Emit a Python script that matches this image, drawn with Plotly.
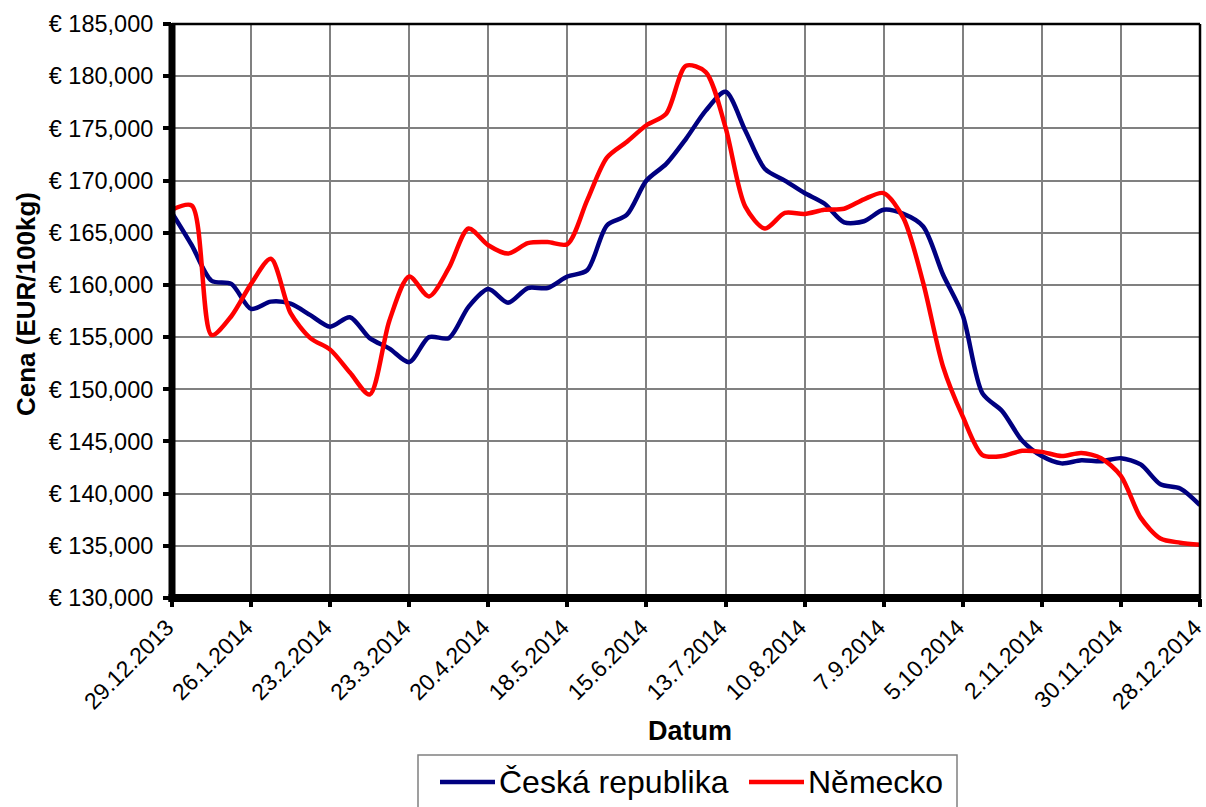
import pandas as pd
import plotly.graph_objects as go

# Weekly dates (53 weeks)
start_date = "2013-12-29"
n_weeks = 53
dates = pd.date_range(start_date, periods=n_weeks, freq="7D")

cz_values = [166900, 163800, 160400, 160100, 157700, 158400, 158200, 157100, 156000, 156900,
             154900, 153900, 152600, 155000, 154900, 157900, 159600, 158300, 159700, 159700,
             160800, 161400, 165700, 166700, 170000, 171600, 174000, 176700, 178500, 174800,
             171100, 170000, 168800, 167800, 166000, 166100, 167200, 166800, 165600, 161000,
             157100, 149600, 147900, 145100, 143600, 142900, 143200, 143100, 143400, 142800,
             140900, 140500, 138900]

de_values = [167200, 167600, 155200, 157000, 160100, 162500, 157300, 154900, 153800, 151600,
             149500, 156600, 160800, 158900, 161600, 165400, 163800, 163000, 164000, 164100,
             163900, 168100, 172200, 173700, 175300, 176400, 181000, 180400, 175100, 167500,
             165400, 166900, 166800, 167200, 167300, 168200, 168800, 166400, 160200, 152200,
             147400, 143700, 143600, 144100, 144000, 143600, 143900, 143400, 141700, 137700,
             135700, 135300, 135100]

x_tick_labels = ["29.12.2013", "26.1.2014", "23.2.2014", "23.3.2014", "20.4.2014", "18.5.2014",
                 "15.6.2014", "13.7.2014", "10.8.2014", "7.9.2014", "5.10.2014", "2.11.2014",
                 "30.11.2014", "28.12.2014"]
y_tick_values = list(range(130000, 185001, 5000))
y_tick_labels = [f"€ {v:,}" for v in y_tick_values]

series_names = ["Česká republika", "Německo"]
series_colors = ["#000080", "#FF0000"]

x_tick_values = list(pd.to_datetime(x_tick_labels, format="%d.%m.%Y"))

FONT = "Liberation Sans, Arial, sans-serif"

# plot area geometry (pixels)
W, H = 1206, 807
L, R, T, B = 172, 1200, 24, 598
pw, ph = R - L, B - T


def px(xp):
    return (xp - L) / pw


def py(yp):
    return (B - yp) / ph


fig = go.Figure()
for name, vals, col in zip(series_names, [cz_values, de_values], series_colors):
    fig.add_trace(go.Scatter(x=dates, y=vals, name=name, mode="lines", showlegend=False,
                             line=dict(color=col, width=4.5, shape="spline", smoothing=0.8)))

x_end = dates[-1] + pd.Timedelta(minutes=30)

annotations = [
    dict(text="<b>Datum</b>", xref="paper", yref="paper", x=px(690), y=py(731),
         xanchor="center", yanchor="middle", showarrow=False,
         font=dict(size=27, family=FONT)),
    dict(text="<b>Cena (EUR/100kg)</b>", xref="paper", yref="paper", x=px(26), y=py(304),
         xanchor="center", yanchor="middle", showarrow=False, textangle=-90,
         font=dict(size=26, family=FONT)),
]
shapes = [
    dict(type="line", xref="paper", yref="paper", x0=0, x1=1, y0=1, y1=1,
         line=dict(color="black", width=2.5)),
    dict(type="line", xref="paper", yref="paper", x0=1, x1=1, y0=0, y1=1,
         line=dict(color="black", width=2.5)),
    dict(type="line", xref="paper", yref="paper", x0=0, x1=0, y0=py(602), y1=py(23),
         line=dict(color="black", width=7)),
    dict(type="line", xref="paper", yref="paper", x0=px(168.5), x1=px(1201), y0=0, y1=0,
         line=dict(color="black", width=8)),
]

# legend (drawn manually to match the boxed legend layout)
legend_box = (418, 755, 957, 815)
shapes.append(dict(type="rect", xref="paper", yref="paper",
                   x0=px(legend_box[0]), x1=px(legend_box[2]),
                   y0=py(legend_box[1]), y1=py(legend_box[3]),
                   line=dict(color="#808080", width=1.5), fillcolor="white"))
legend_items = [(440, 495, 497), (749, 804, 806)]
for (lx0, lx1, tx), name, col in zip(legend_items, series_names, series_colors):
    shapes.append(dict(type="line", xref="paper", yref="paper", x0=px(lx0), x1=px(lx1),
                       y0=py(782), y1=py(782), line=dict(color=col, width=4.5)))
    annotations.append(dict(text=name, xref="paper", yref="paper", x=px(tx), y=py(782),
                            xanchor="left", yanchor="middle", showarrow=False,
                            font=dict(size=32, family=FONT)))

fig.update_layout(
    width=W, height=H,
    margin=dict(l=L, r=W - R, t=T, b=H - B),
    paper_bgcolor="white", plot_bgcolor="white",
    font=dict(family=FONT, color="black"),
    showlegend=False,
    xaxis=dict(type="date", range=[dates[0], x_end], automargin=False,
               tickmode="array", tickvals=x_tick_values, ticktext=x_tick_labels,
               tickangle=-45, tickfont=dict(size=23, family=FONT),
               ticklabeloverflow="allow", ticklabelshift=-5, ticklabelstandoff=-2,
               showgrid=True, gridcolor="#808080", gridwidth=2,
               showline=False, zeroline=False,
               ticks="outside", ticklen=8, tickwidth=4, tickcolor="black"),
    yaxis=dict(range=[130000, 185000], tickmode="array", automargin=False,
               tickvals=y_tick_values, ticktext=y_tick_labels,
               tickfont=dict(size=23.5, family=FONT),
               ticklabeloverflow="allow",
               showgrid=True, gridcolor="#808080", gridwidth=2,
               showline=False, zeroline=False,
               ticks="outside", ticklen=8, tickwidth=4, tickcolor="black",
               ticklabelstandoff=5),
    annotations=annotations,
    shapes=shapes,
)

fig.write_html("out.html", config={"displayModeBar": False},
               post_script="document.body.style.margin='0px';document.body.style.overflow='hidden';")
